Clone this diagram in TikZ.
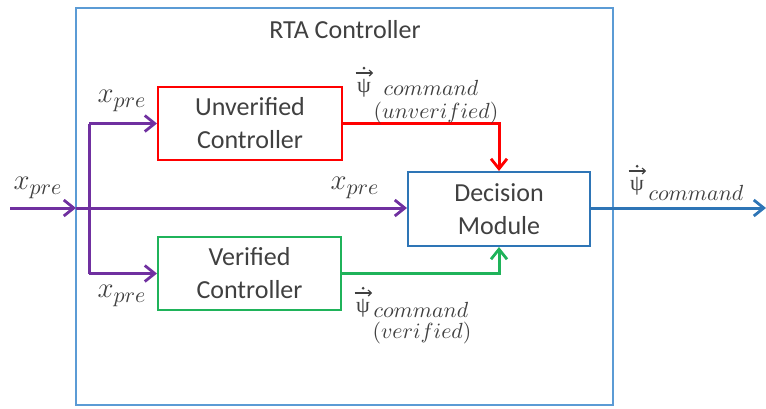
\documentclass[tikz,border=0pt]{standalone}
\usepackage{fontspec}
\setmainfont{Carlito}
\newfontfamily\psifont{Liberation Serif}
\usetikzlibrary{arrows.meta}
\definecolor{boxblue}{HTML}{5B9BD5}
\definecolor{outblue}{HTML}{2E75B6}
\definecolor{sigpurple}{HTML}{7030A0}
\definecolor{okgreen}{HTML}{1FB35A}
\definecolor{txtgray}{HTML}{404040}
\tikzset{
  block/.style={draw, line width=1pt, fill=white, text=txtgray, align=center,
    font=\fontsize{13}{16.5}\selectfont, inner sep=0pt},
  sig/.style={line width=1.5pt, -{Straight Barb[length=5pt,width=8pt,line width=1.4pt]}},
  plain/.style={line width=1.5pt},
  mlab/.style={text=txtgray, inner sep=0pt, font=\fontsize{15}{18}\selectfont},
  slab/.style={text=txtgray, inner sep=0pt, font=\fontsize{11}{13}\selectfont},
  plab/.style={text=txtgray, inner sep=0pt, font=\fontsize{11}{13}\selectfont},
  psil/.style={text=txtgray, inner sep=0pt, font=\fontsize{11}{13}\psifont},
  vecmark/.style={txtgray, line width=0.6pt, -{Straight Barb[length=1.6pt,width=3pt,line width=0.6pt]}},
}
% psi symbol with a vector arrow and a time-derivative dot drawn above it
\newcommand\psimarks[1]{%
  \draw[vecmark] ([xshift=-4.2pt,yshift=2.8pt]#1.north) -- ([xshift=4.6pt,yshift=2.8pt]#1.north);
  \fill[txtgray] ([yshift=5.2pt]#1.north) circle (0.75pt);
}
\begin{document}
\begin{tikzpicture}[x=0.5pt,y=-0.5pt]
\useasboundingbox (0,0) rectangle (766,408);
% RTA controller frame
\draw[boxblue, line width=1.2pt] (76,8) rectangle (613,405);
\node[text=txtgray, font=\fontsize{13}{16}\selectfont] (title) at (345,30) {RTA Controller};
% blocks
\node[block, draw=red, minimum width=92pt, minimum height=36.5pt] (unv) at (250,123.5) {Unverified\\Controller};
\node[block, draw=okgreen, minimum width=91.5pt, minimum height=36.5pt] (ver) at (249.5,273.5) {Verified\\Controller};
\node[block, draw=outblue, minimum width=91pt, minimum height=37pt] (dec) at (499,209) {Decision\\Module};
% input signal and branches
\coordinate (in) at (10,208);
\coordinate (edge) at (76,208);
\coordinate (split) at (89,208);
\coordinate (out) at (766,208);
\draw[sig, sigpurple] (in) -- (edge);
\draw[sig, sigpurple] (edge) -- (dec.west |- edge);
\draw[plain, sigpurple] (split |- unv.west) -- (split |- ver.west);
\draw[sig, sigpurple] (split |- unv.west) -- (unv.west);
\draw[sig, sigpurple] (split |- ver.west) -- (ver.west);
% controller outputs to the decision module
\draw[sig, red] (unv.east) -| (dec.north);
\draw[sig, okgreen] (ver.east) -| (dec.south);
% module output
\draw[sig, outblue] (dec.east |- out) -- (out);
% signal labels
\node[mlab] (xin) at (38,188) {$x_{pre}$};
\node[mlab] (xup) at (122,101) {$x_{pre}$};
\node[mlab] (xlo) at (122,296) {$x_{pre}$};
\node[mlab] (xmid) at (355,188) {$x_{pre}$};
\node[psil] (psiu) at (364,88) {ψ};
\psimarks{psiu}
\node[slab] (cmdu) at (431,88) {$command$};
\node[plab] (tagu) at (436,113) {$(unverified)$};
\node[psil] (psiv) at (363,308) {ψ};
\psimarks{psiv}
\node[slab] (cmdv) at (421,310) {$command$};
\node[plab] (tagv) at (422,333) {$(verified)$};
\node[psil] (psio) at (637,186) {ψ};
\psimarks{psio}
\node[slab] (cmdo) at (696,193) {$command$};
\end{tikzpicture}
\end{document}
